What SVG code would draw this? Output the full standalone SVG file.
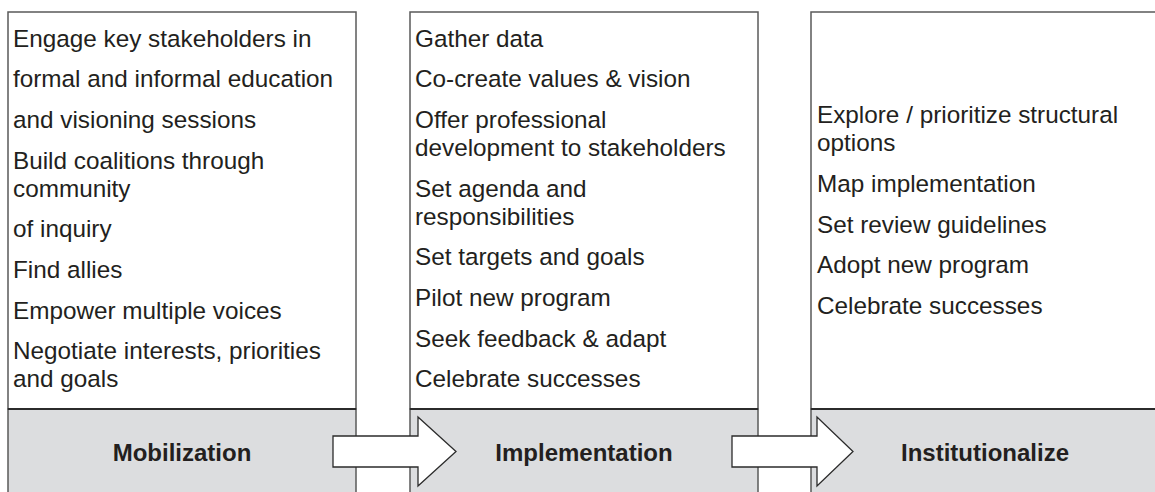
<svg xmlns="http://www.w3.org/2000/svg" width="1155" height="492" viewBox="0 0 1155 492">
<style>
.box{fill:#ffffff;stroke:#5a5a5a;stroke-width:1.5}
.band{fill:#dcdddf;stroke:#5a5a5a;stroke-width:1.5}
.bandline{stroke:#2b2b2b;stroke-width:2}
.t{font-family:"Liberation Sans",Arial,Helvetica,sans-serif;font-size:24.3px;fill:#231f20}
.h{font-family:"Liberation Sans",Arial,Helvetica,sans-serif;font-size:24px;font-weight:bold;fill:#231f20;text-anchor:middle}
.arrow{fill:#ffffff;stroke:#2b2b2b;stroke-width:1.3;stroke-linejoin:miter}
</style>
<rect width="1155" height="492" fill="#ffffff"/>
<g id="mobilization">
<rect class="box" x="8" y="12" width="348" height="397"/>
<rect class="band" x="8" y="409" width="348" height="100"/>
<line class="bandline" x1="8" y1="409" x2="356" y2="409"/>
<text class="t" x="13">
<tspan x="13" y="46.7">Engage key stakeholders in</tspan>
<tspan x="13" y="87.3">formal and informal education</tspan>
<tspan x="13" y="128">and visioning sessions</tspan>
<tspan x="13" y="168.7">Build coalitions through</tspan>
<tspan x="13" y="196.7">community</tspan>
<tspan x="13" y="237.3">of inquiry</tspan>
<tspan x="13" y="278">Find allies</tspan>
<tspan x="13" y="318.7">Empower multiple voices</tspan>
<tspan x="13" y="359.3">Negotiate interests, priorities</tspan>
<tspan x="13" y="387.3">and goals</tspan>
</text>
<text class="h" x="182" y="461">Mobilization</text>
</g>
<g id="implementation">
<rect class="box" x="410" y="12" width="348" height="397"/>
<rect class="band" x="410" y="409" width="348" height="100"/>
<line class="bandline" x1="410" y1="409" x2="758" y2="409"/>
<text class="t">
<tspan x="415" y="46.7">Gather data</tspan>
<tspan x="415" y="87.3">Co-create values &amp; vision</tspan>
<tspan x="415" y="128">Offer professional</tspan>
<tspan x="415" y="156">development to stakeholders</tspan>
<tspan x="415" y="196.7">Set agenda and</tspan>
<tspan x="415" y="224.7">responsibilities</tspan>
<tspan x="415" y="265.3">Set targets and goals</tspan>
<tspan x="415" y="306">Pilot new program</tspan>
<tspan x="415" y="346.7">Seek feedback &amp; adapt</tspan>
<tspan x="415" y="387.3">Celebrate successes</tspan>
</text>
<text class="h" x="584" y="461">Implementation</text>
</g>
<g id="institutionalize">
<rect class="box" x="811" y="12" width="360" height="397"/>
<rect class="band" x="811" y="409" width="360" height="100"/>
<line class="bandline" x1="811" y1="409" x2="1171" y2="409"/>
<text class="t">
<tspan x="817" y="123.3">Explore / prioritize structural</tspan>
<tspan x="817" y="151.3">options</tspan>
<tspan x="817" y="192">Map implementation</tspan>
<tspan x="817" y="232.7">Set review guidelines</tspan>
<tspan x="817" y="273.3">Adopt new program</tspan>
<tspan x="817" y="314">Celebrate successes</tspan>
</text>
<text class="h" x="985" y="461">Institutionalize</text>
</g>
<g id="connectors">
<polygon class="arrow" points="333,436 418,436 418,417 456,451.5 418,486 418,467 333,467"/>
<polygon class="arrow" points="732,436 817,436 817,417 853,451.5 817,486 817,467 732,467"/>
</g>
</svg>
